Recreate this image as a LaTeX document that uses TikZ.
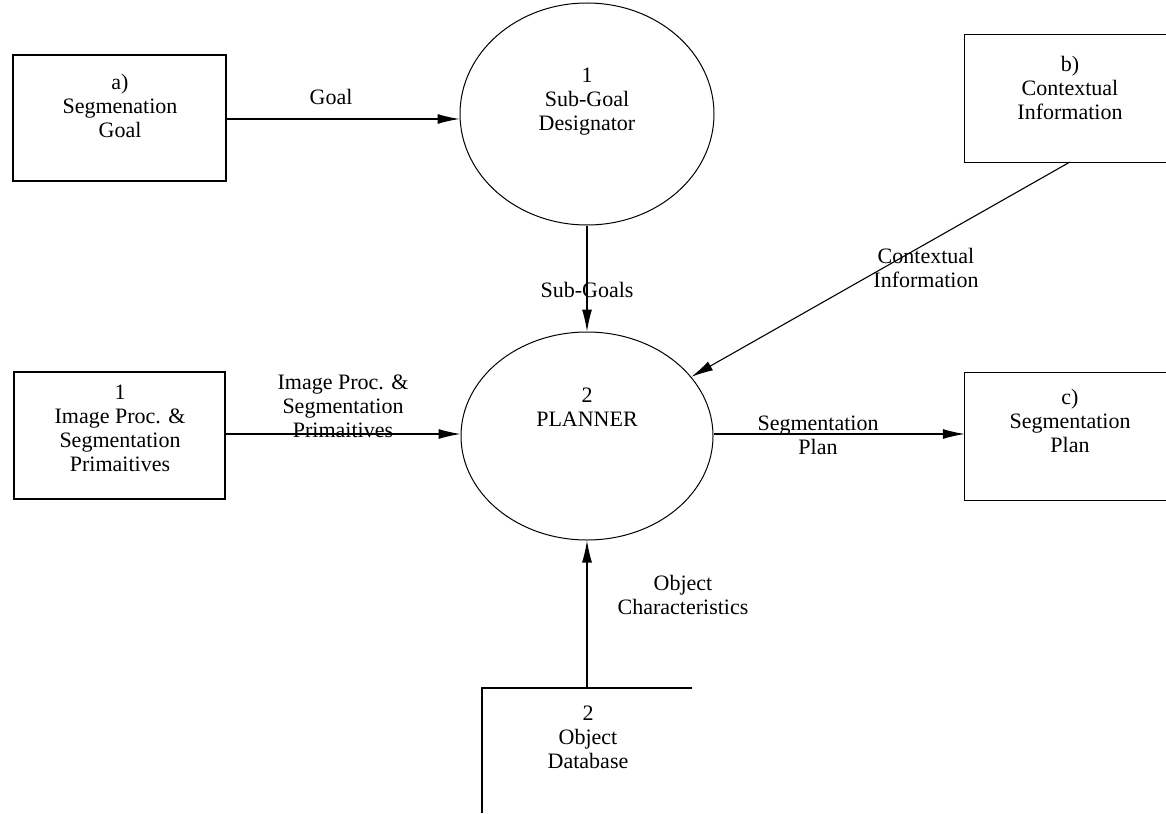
\documentclass[tikz,border=0pt]{standalone}
\usepackage{fontspec}
\setmainfont{Liberation Serif}
\usetikzlibrary{arrows.meta,shapes.geometric}
\begin{document}
\begin{tikzpicture}[x=1pt,y=-1pt,
  lbl/.style={align=center,inner sep=0pt,font=\fontsize{22}{24}\selectfont},
  edge/.style={line width=1.1pt},
  flow/.style={edge,-{Latex[length=22pt,width=10pt]}},
  proc/.style={ellipse,draw,line width=1pt,inner sep=0pt},
  ent/.style={rectangle,draw,line width=1.1pt,inner sep=0pt}]
\useasboundingbox (0,0) rectangle (1166,813);

% external entities (boxes a and 1 are closed)
\node[ent,minimum width=213pt,minimum height=126pt] (boxA) at (119.5,118) {};
\node[ent,minimum width=211pt,minimum height=127pt] (boxI) at (119.5,435.5) {};

% entities cut off at the right / bottom edge
\node[minimum width=240pt,minimum height=127pt,inner sep=0pt] (boxB) at (1085,98.5) {};
\draw[edge] (boxB.north east) -- (boxB.north west) -- (boxB.south west) -- (boxB.south east);
\node[minimum width=240pt,minimum height=127pt,inner sep=0pt] (boxC) at (1085,436.5) {};
\draw[edge] (boxC.north east) -- (boxC.north west) -- (boxC.south west) -- (boxC.south east);
\coordinate (dbTL) at (482,688);
\coordinate (dbTR) at (692,688);
\coordinate (dbBL) at (482,813);
\draw[edge] (dbTR) -- (dbTL) -- (dbBL);
\coordinate (dbTop) at (587,688);

% processes
\node[proc,minimum width=254pt,minimum height=222pt] (sgd) at (587,114) {};
\node[proc,minimum width=252pt,minimum height=208pt] (plan) at (587,436) {};

% texts
\node[lbl] (tA) at (120,106) {a)\\Segmenation\\Goal};
\node[lbl] (tB) at (1070,88) {b)\\Contextual\\Information};
\node[lbl] (tI) at (120,428) {1\\Image Proc. \&\\Segmentation\\Primaitives};
\node[lbl] (tC) at (1070,421) {c)\\Segmentation\\Plan};
\node[lbl] (tDB) at (588,737) {2\\Object\\Database};
\node[lbl] (tS) at (587,102) {1\\Sub-Goal\\Designator};
\node[lbl] (tP) at (587,407) {2\\PLANNER};

% flows
\coordinate (bOut) at (1070,162);
\draw[flow] (boxA.east |- 0,119) -- (sgd.west |- 0,119);
\draw[flow] (sgd.south) -- (plan.north);
\draw[flow] (bOut) -- (plan);
\draw[flow] (boxI.east |- 0,434) -- (plan.west |- 0,434);
\draw[flow] (plan.east |- 0,434) -- (boxC.west |- 0,434);
\draw[flow] (dbTop) -- (plan.south);

% flow labels
\node[lbl] (lGoal) at (331,97) {Goal};
\node[lbl] (lSub) at (587,290) {Sub-Goals};
\node[lbl] (lCtx) at (926,268) {Contextual\\Information};
\node[lbl] (lImg) at (343,406) {Image Proc. \&\\Segmentation\\Primaitives};
\node[lbl] (lPlan) at (818,435) {Segmentation\\Plan};
\node[lbl] (lObj) at (683,595) {Object\\Characteristics};
\end{tikzpicture}
\end{document}
